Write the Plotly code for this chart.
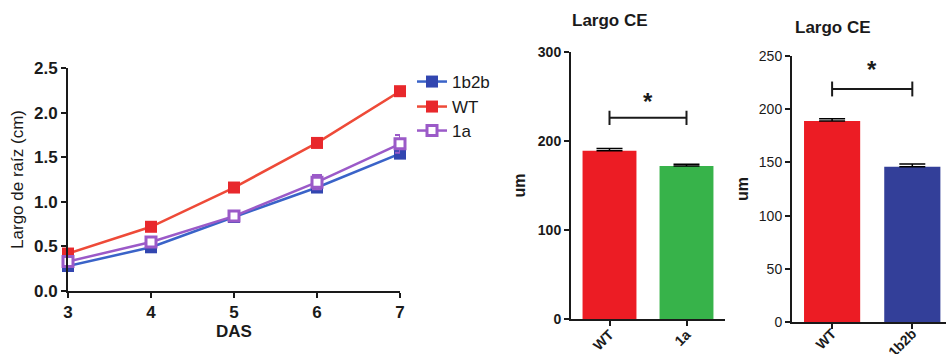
import plotly.graph_objects as go

W, H = 946, 354

# ---- data ----
das = [3, 4, 5, 6, 7]
wt_len = [0.42, 0.72, 1.16, 1.66, 2.24]
wt_err = [0.02, 0.02, 0.02, 0.02, 0.03]
a1_len = [0.33, 0.55, 0.84, 1.22, 1.65]
a1_err = [0.02, 0.03, 0.03, 0.08, 0.10]
b2b_len = [0.28, 0.49, 0.83, 1.16, 1.54]
b2b_err = [0.02, 0.02, 0.02, 0.03, 0.03]

bar1_cats = ["WT", "1a"]
bar1_vals = [189, 172]
bar1_errs = [2.5, 2.0]
bar2_cats = ["WT", "1b2b"]
bar2_vals = [189, 146]
bar2_errs = [2.0, 2.5]

FONT = "Liberation Sans, Arial, sans-serif"
INK = "#1a1a1a"

def px_x(a, b):
    return [a / W, b / W]

def px_y(top, bottom):
    return [(H - bottom) / H, (H - top) / H]

fig = go.Figure()

# line chart
fig.add_trace(go.Scatter(
    x=das, y=b2b_len, name="1b2b", mode="lines+markers",
    line=dict(color="#3a63c8", width=2.5),
    marker=dict(symbol="square", size=12, color="#3246b0"),
    error_y=dict(type="data", array=b2b_err, color="#3246b0", thickness=1.5, width=4),
    cliponaxis=False, xaxis="x", yaxis="y", legend="legend"))
fig.add_trace(go.Scatter(
    x=das, y=wt_len, name="WT", mode="lines+markers",
    line=dict(color="#ee4a38", width=2.5),
    marker=dict(symbol="square", size=12, color="#e8282c"),
    error_y=dict(type="data", array=wt_err, color="#e8282c", thickness=1.5, width=4),
    cliponaxis=False, xaxis="x", yaxis="y", legend="legend2"))
fig.add_trace(go.Scatter(
    x=das, y=a1_len, name="1a", mode="lines+markers",
    line=dict(color="#9b5ac8", width=2.5),
    marker=dict(symbol="square", size=10, color="white", line=dict(color="#9b5ac8", width=3)),
    error_y=dict(type="data", array=a1_err, color="#9b5ac8", thickness=2, width=5),
    cliponaxis=False, xaxis="x", yaxis="y", legend="legend3"))

# bar chart 1
fig.add_trace(go.Bar(
    x=bar1_cats, y=bar1_vals, width=0.7,
    marker=dict(color=["#ec1c24", "#37b34a"], line=dict(width=0)),
    error_y=dict(type="data", symmetric=False, array=bar1_errs, arrayminus=[0, 0],
                 color="black", thickness=1.5, width=13),
    showlegend=False, xaxis="x2", yaxis="y2"))

# bar chart 2
fig.add_trace(go.Bar(
    x=bar2_cats, y=bar2_vals, width=0.7,
    marker=dict(color=["#ec1c24", "#333f99"], line=dict(width=0)),
    error_y=dict(type="data", symmetric=False, array=bar2_errs, arrayminus=[0, 0],
                 color="black", thickness=1.5, width=13),
    showlegend=False, xaxis="x3", yaxis="y3"))

def axis(tsize, bold=True, **kw):
    tf = dict(family=FONT, size=tsize, color=INK)
    if bold:
        tf["weight"] = "bold"
    d = dict(showline=True, linecolor=INK, linewidth=2, ticks="outside",
             tickcolor=INK, tickwidth=2, ticklen=5, showgrid=False,
             zeroline=False, tickfont=tf, automargin=False)
    d.update(kw)
    return d

fig.update_layout(
    width=W, height=H, margin=dict(l=0, r=0, t=0, b=0, autoexpand=False),
    paper_bgcolor="white", plot_bgcolor="white",
    font=dict(family=FONT, color=INK),
    xaxis=axis(17, domain=px_x(68, 400), range=[3, 7], tickvals=das, anchor="y",
               title=dict(text="DAS", font=dict(family=FONT, size=17, weight="bold"), standoff=4)),
    yaxis=axis(17, domain=px_y(68, 291), range=[0, 2.5], dtick=0.5, tickformat=".1f", anchor="x",
               title=dict(text="Largo de raíz (cm)", font=dict(family=FONT, size=17), standoff=6)),
    xaxis2=axis(14, domain=px_x(571, 725), range=[-0.5, 1.5], anchor="y2", tickangle=-45,
                ticklabelstandoff=-5),
    yaxis2=axis(14, domain=px_y(52, 319), range=[0, 300], dtick=100, anchor="x2",
                title=dict(text="um", font=dict(family=FONT, size=16, weight="bold"), standoff=8)),
    xaxis3=axis(14, domain=px_x(792, 946), range=[-0.5, 1.42], anchor="y3", tickangle=-45,
                ticklabelstandoff=-9),
    yaxis3=axis(14, bold=False, domain=px_y(56, 322), range=[0, 250], dtick=50, anchor="x3",
                title=dict(text="um", font=dict(family=FONT, size=16, weight="bold"), standoff=6)),
)

legend_base = dict(xanchor="left", yanchor="middle", bgcolor="rgba(0,0,0,0)",
                   font=dict(family=FONT, size=17, color=INK),
                   itemwidth=30, tracegroupgap=0)
fig.update_layout(
    legend=dict(x=412 / W, y=(H - 82) / H, **legend_base),
    legend2=dict(x=412 / W, y=(H - 107) / H, **legend_base),
    legend3=dict(x=412 / W, y=(H - 131) / H, **legend_base),
)

# significance brackets
for xr, yr, yb, ys, tick in [("x2", "y2", 226, 244, 8), ("x3", "y3", 219, 237, 7)]:
    fig.add_shape(type="line", xref=xr, yref=yr, x0=0, x1=1, y0=yb, y1=yb,
                  line=dict(color=INK, width=2))
    for xe in (0, 1):
        fig.add_shape(type="line", xref=xr, yref=yr, x0=xe, x1=xe,
                      y0=yb - tick, y1=yb + tick, line=dict(color=INK, width=2))
    fig.add_annotation(xref=xr, yref=yr, x=0.5, y=ys, text="*", showarrow=False,
                       yanchor="middle", font=dict(family=FONT, size=24, weight="bold", color=INK))

# panel titles
fig.add_annotation(xref="paper", yref="paper", x=650 / W, y=(H - 20) / H, text="Largo CE",
                   showarrow=False, yanchor="middle",
                   font=dict(family=FONT, size=17, weight="bold", color=INK))
fig.add_annotation(xref="paper", yref="paper", x=873 / W, y=(H - 27) / H, text="Largo CE",
                   showarrow=False, yanchor="middle",
                   font=dict(family=FONT, size=17, weight="bold", color=INK))

fig.write_html(
    "out.html",
    config={"displayModeBar": False},
    post_script="document.body.style.margin='0';document.body.style.overflow='hidden';",
)
